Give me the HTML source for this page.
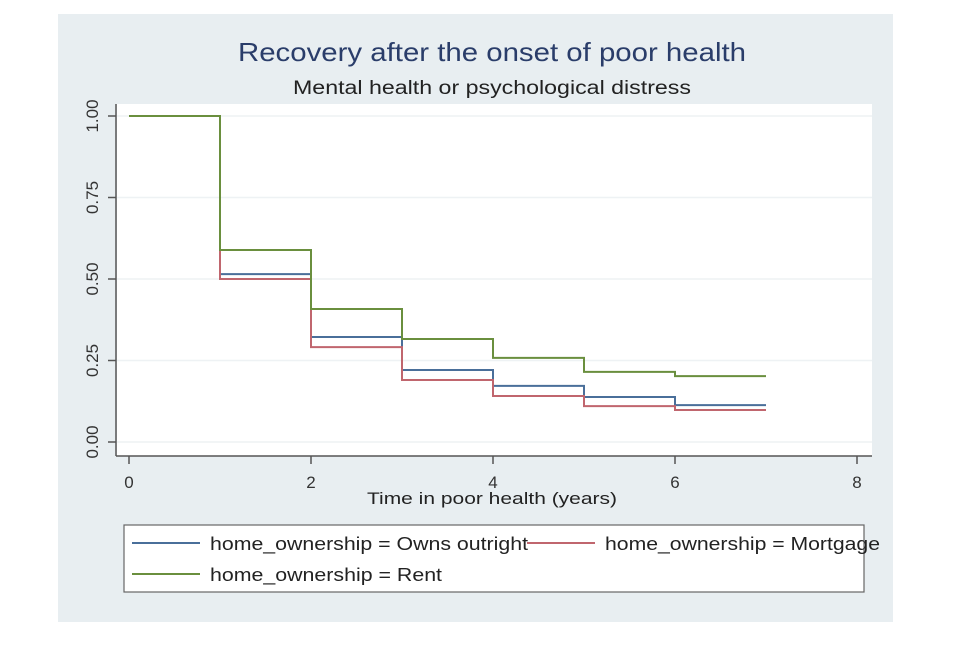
<!DOCTYPE html>
<html><head><meta charset="utf-8"><style>
body{margin:0;background:#fff;font-family:"Liberation Sans",sans-serif}
</style></head><body>
<svg width="960" height="640" xmlns="http://www.w3.org/2000/svg">
<rect x="0" y="0" width="960" height="640" fill="#fff"/>
<rect x="58" y="14" width="835" height="608" fill="#e8eef1"/>
<rect x="117" y="104" width="755" height="352" fill="#fff"/>
<text x="238" y="61" font-size="26" fill="#2a3d6a" textLength="508" lengthAdjust="spacingAndGlyphs">Recovery after the onset of poor health</text>
<text x="293" y="94" font-size="19" fill="#222" textLength="398" lengthAdjust="spacingAndGlyphs">Mental health or psychological distress</text>
<g id="grid"></g>
<g id="axes" stroke="#555" stroke-width="1.5" fill="none">
<line x1="116" y1="104" x2="116" y2="456"/>
<line x1="116" y1="456" x2="872" y2="456"/>
</g>
<g id="ticks"></g>
<g id="series"></g>
<text x="367" y="504" font-size="17" fill="#222" textLength="250" lengthAdjust="spacingAndGlyphs">Time in poor health (years)</text>
<g>
<rect x="124" y="525" width="740" height="67" fill="#fff" stroke="#666" stroke-width="1.2"/>
<line x1="132" y1="543" x2="200" y2="543" stroke="#4a6f9a" stroke-width="2"/>
<text x="210" y="550" font-size="18" fill="#222" textLength="318" lengthAdjust="spacingAndGlyphs">home_ownership = Owns outright</text>
<line x1="527" y1="543" x2="595" y2="543" stroke="#c0666e" stroke-width="2"/>
<text x="605" y="550" font-size="18" fill="#222" textLength="275" lengthAdjust="spacingAndGlyphs">home_ownership = Mortgage</text>
<line x1="132" y1="574" x2="200" y2="574" stroke="#6a8f3e" stroke-width="2"/>
<text x="210" y="581" font-size="18" fill="#222" textLength="232" lengthAdjust="spacingAndGlyphs">home_ownership = Rent</text>
</g>
</svg>
<script>
const times=[0,1,2,3,4,5,6,7];
const owns=[1,0.515,0.322,0.221,0.172,0.138,0.113];
const mortgage=[1,0.50,0.291,0.19,0.141,0.110,0.098];
const rent=[1,0.589,0.408,0.316,0.258,0.215,0.202];
const xTicks=[0,2,4,6,8];
const yTicks=[0,0.25,0.5,0.75,1];
const yTickLabels=["0.00","0.25","0.50","0.75","1.00"];
const NS="http://www.w3.org/2000/svg";
const xs=t=>129+t*91;
const ys=v=>442-v*326;
function mk(tag,attrs,parent){const e=document.createElementNS(NS,tag);for(const k in attrs)e.setAttribute(k,attrs[k]);parent.appendChild(e);return e;}
const grid=document.getElementById('grid'),ticks=document.getElementById('ticks'),ser=document.getElementById('series');
yTicks.forEach((v,i)=>{
 const g=mk('line',{x1:117,x2:872,y1:ys(v),y2:ys(v),stroke:'#eef2f4','stroke-width':1.5},grid);
 
 
 const t=mk('line',{x1:108,x2:116,y1:ys(v),y2:ys(v),stroke:'#555','stroke-width':1.5},ticks);
 
 
 const l=mk('text',{x:0,y:0,'font-size':17,fill:'#333','text-anchor':'middle',transform:`translate(98,${ys(v)}) rotate(-90)`},ticks);
 l.textContent=yTickLabels[i];
 
 
});
xTicks.forEach(v=>{
 const t=mk('line',{x1:xs(v),x2:xs(v),y1:456,y2:464,stroke:'#555','stroke-width':1.5},ticks);
 
 
 const l=mk('text',{x:xs(v),y:488,'font-size':17,fill:'#333','text-anchor':'middle'},ticks);
 l.textContent=v;
 
 
});
function step(vals){let d=`M${xs(times[0])},${ys(vals[0])}`;for(let i=1;i<times.length;i++){d+=` H${xs(times[i])}`;if(i<vals.length)d+=` V${ys(vals[i])}`;}return d;}
[[owns,'#4a6f9a','owns-line'],[mortgage,'#c0666e','mortgage-line'],[rent,'#6a8f3e','rent-line']].forEach(([v,c,n])=>{
 const p=mk('path',{d:step(v),fill:'none',stroke:c,'stroke-width':2},ser);
 
 
});
</script>
</body></html>
